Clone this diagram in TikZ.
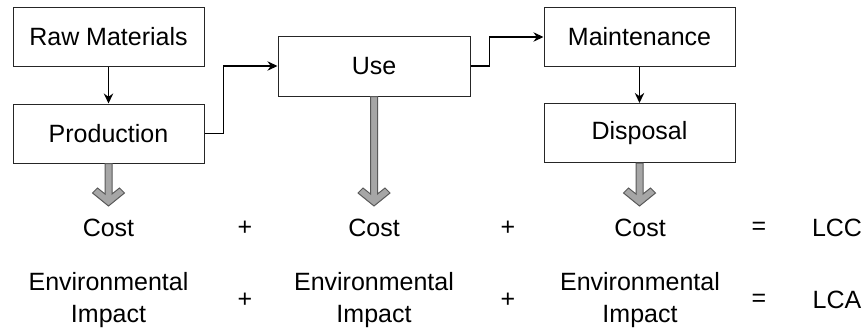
\documentclass[tikz,border=0pt]{standalone}
\usepackage{fontspec}
\setmainfont{Liberation Sans}
\usetikzlibrary{arrows.meta,positioning,calc}
\tikzset{
  box/.style={rectangle,draw=black!85,line width=0.75pt,fill=white,minimum width=143.25pt,minimum height=44.25pt,inner sep=2pt,font=\fontsize{18.75}{24}\selectfont},
  boxU/.style={box,minimum width=144pt,minimum height=45pt},
  flow/.style={-{Stealth[length=7.5pt,width=7pt]},line width=1.4pt,black},
  fat/.style={draw=black!65,fill=black!35,line width=0.75pt,line join=miter},
  term/.style={font=\fontsize{18.75}{24}\selectfont,align=center,inner sep=0pt},
}
\newcommand{\fatarrow}[2]{%
  \draw[fat] ($(#1.south)+(-3.5,0)$) -- ($(#2)+(-3.5,-12)$) -- ($(#2)+(-11,-18)$)
    -- ($(#2)+(-16,-13)$) -- (#2) -- ($(#2)+(16,-13)$) -- ($(#2)+(11,-18)$)
    -- ($(#2)+(3.5,-12)$) -- ($(#1.south)+(3.5,0)$) -- cycle;}

\begin{document}
\begin{tikzpicture}[x=0.75pt,y=-0.75pt,node distance=27.75pt]
\useasboundingbox (0,0) rectangle (866,332);
% life cycle stages
\node[box] (raw) at (108.5,36.5) {Raw Materials};
\node[box,below=of raw] (prod) {Production};
\node[boxU] (use) at (374,66) {Use};
\node[box] (maint) at (639.5,37) {Maintenance};
\node[box,below=27pt of maint] (disp) {Disposal};
\draw[flow] (raw) -- (prod);
\draw[flow] (prod.east) -- ++(19,0) |- (use.west);
\draw[flow] (use.east) -- ++(19,0) |- (maint.west);
\draw[flow] (maint) -- (disp);
% contributions
\coordinate (tp) at (108.5,206);
\coordinate (tu) at (374,206);
\coordinate (td) at (639.5,206);
\fatarrow{prod}{tp}
\fatarrow{use}{tu}
\fatarrow{disp}{td}
% cost row
\node[term] (c1) at (108.5,228) {Cost};
\node[term] (p1) at (245,228) {+};
\node[term] (c2) at (374,228) {Cost};
\node[term] (p2) at (508,228) {+};
\node[term] (c3) at (640,228) {Cost};
\node[term] (eq1) at (759,228) {=};
\node[term] (lcc) at (837,228) {LCC};
% impact row
\node[term] (e1) at (108.5,300) {Environmental\\Impact};
\node[term] (q1) at (245,300) {+};
\node[term] (e2) at (374,300) {Environmental\\Impact};
\node[term] (q2) at (508,300) {+};
\node[term] (e3) at (640,300) {Environmental\\Impact};
\node[term] (eq2) at (759,300) {=};
\node[term] (lca) at (837,300) {LCA};
\end{tikzpicture}
\end{document}
